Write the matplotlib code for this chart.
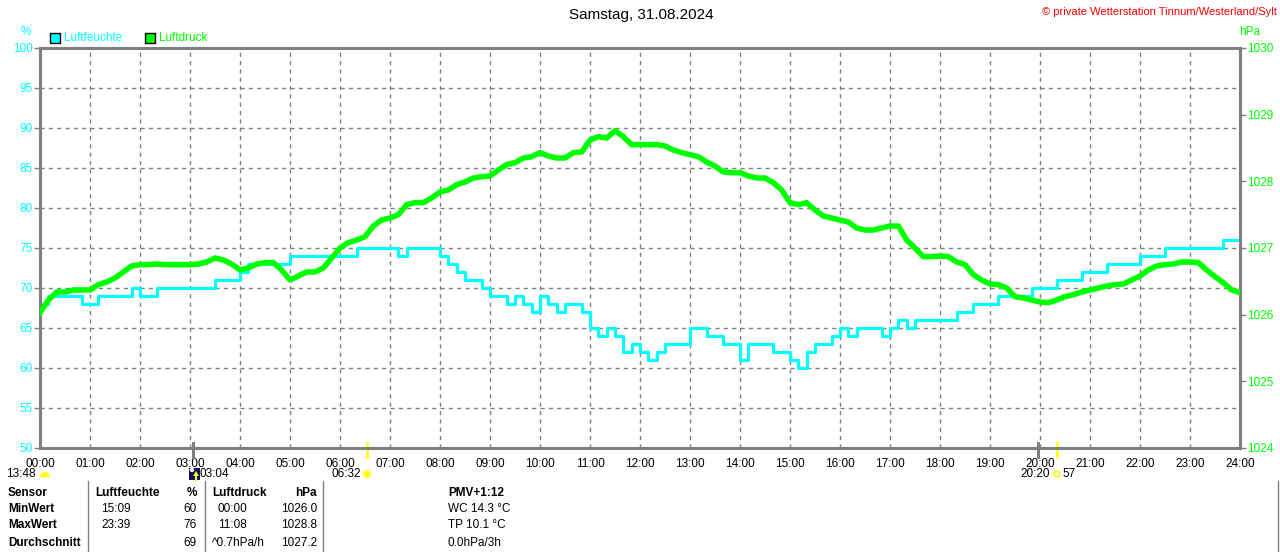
import numpy as np
import matplotlib
matplotlib.use("Agg")
import matplotlib.pyplot as plt
from matplotlib.patches import Rectangle, Circle, Wedge, Polygon
from matplotlib.lines import Line2D
from matplotlib.transforms import Affine2D

plt.rcParams['font.family'] = ['Liberation Sans', 'DejaVu Sans']

# ---------------- data ----------------
title = "Samstag, 31.08.2024"
copyright_text = "© private Wetterstation Tinnum/Westerland/Sylt"
hour_labels = ["%02d:00" % h for h in range(25)]
hum_ticks = [50, 55, 60, 65, 70, 75, 80, 85, 90, 95, 100]
pres_ticks = [1024, 1025, 1026, 1027, 1028, 1029, 1030]
sample_minutes = 10

# Luftfeuchte (%) every 10 minutes from 00:00 to 24:00
humidity = [68, 69, 69, 69, 69, 68, 68, 69, 69, 69, 69, 70, 69, 69,
            70, 70, 70, 70, 70, 70, 70, 71, 71, 71, 72, 73, 73, 73, 73, 73,
            74, 74, 74, 74, 74, 74, 74, 74, 75, 75, 75, 75, 75, 74, 75, 75, 75, 75,
            74, 73, 72, 71, 71, 70, 69, 69, 68, 69, 68, 67, 69, 68, 67, 68, 68, 67,
            65, 64, 65, 64, 62, 63, 62, 61, 62, 63, 63, 63, 65, 65, 64, 64, 63, 63,
            61, 63, 63, 63, 62, 62, 61, 60, 62, 63, 63, 64, 65, 64, 65, 65, 65, 64, 65,
            66, 65, 66, 66, 66, 66, 66, 67, 67, 68, 68, 68, 69, 69, 69, 69,
            70, 70, 70, 71, 71, 71, 72, 72, 72, 73, 73, 73, 73, 74, 74, 74,
            75, 75, 75, 75, 75, 75, 75, 76, 76, 76]

# Luftdruck (hPa) every 10 minutes from 00:00 to 24:00
pressure = [1026.03, 1026.22, 1026.34, 1026.34, 1026.37, 1026.37,
            1026.37, 1026.45, 1026.49, 1026.55, 1026.64, 1026.73,
            1026.75, 1026.75, 1026.76, 1026.75, 1026.75, 1026.75,
            1026.75, 1026.76, 1026.79, 1026.85, 1026.82, 1026.76,
            1026.67, 1026.70, 1026.76, 1026.78, 1026.78, 1026.67,
            1026.52, 1026.58, 1026.64, 1026.64, 1026.70, 1026.85,
            1027.00, 1027.08, 1027.12, 1027.17, 1027.33, 1027.42,
            1027.45, 1027.50, 1027.65, 1027.68, 1027.68, 1027.75,
            1027.84, 1027.87, 1027.95, 1027.99, 1028.05, 1028.07,
            1028.08, 1028.17, 1028.25, 1028.28, 1028.35, 1028.37,
            1028.43, 1028.38, 1028.35, 1028.35, 1028.43, 1028.44,
            1028.62, 1028.67, 1028.65, 1028.76, 1028.67, 1028.55,
            1028.55, 1028.55, 1028.55, 1028.53, 1028.47, 1028.43,
            1028.40, 1028.37, 1028.29, 1028.23, 1028.14, 1028.13,
            1028.13, 1028.08, 1028.05, 1028.05, 1027.98, 1027.87,
            1027.68, 1027.65, 1027.68, 1027.57, 1027.48, 1027.45,
            1027.42, 1027.39, 1027.30, 1027.27, 1027.27, 1027.30,
            1027.33, 1027.33, 1027.12, 1027.00, 1026.87, 1026.87,
            1026.88, 1026.87, 1026.79, 1026.75, 1026.60, 1026.52,
            1026.46, 1026.45, 1026.40, 1026.27, 1026.25, 1026.22,
            1026.19, 1026.18, 1026.22, 1026.27, 1026.30, 1026.34,
            1026.37, 1026.40, 1026.43, 1026.45, 1026.46, 1026.52,
            1026.58, 1026.67, 1026.73, 1026.75, 1026.76, 1026.79,
            1026.79, 1026.78, 1026.67, 1026.57, 1026.48, 1026.37,
            1026.33]

# astronomical markers (hours)
moon_marks = [3 + 4/60, 19 + 57/60]
sun_marks = [6 + 32/60, 20 + 20/60]

# table
table_header = ["Sensor", "Luftfeuchte", "%", "Luftdruck", "hPa", "PMV+1:12"]
row_names = ["MinWert", "MaxWert", "Durchschnitt"]
hum_times = ["15:09", "23:39", ""]
hum_vals = ["60", "76", "69"]
pres_times = ["00:00", "11:08", "^0.7hPa/h"]
pres_vals = ["1026.0", "1028.8", "1027.2"]
extra = ["WC 14.3 °C", "TP 10.1 °C", "0.0hPa/3h"]

# ---------------- figure ----------------
W, H = 1280, 552
fig = plt.figure(figsize=(W/100, H/100), dpi=100)
fig.patch.set_facecolor('white')

# pixel transform, origin top-left
PX = Affine2D().scale(1/100, -1/100).translate(0, H/100) + fig.dpi_scale_trans

def fx(x):
    return x / W

def fy(y):
    return 1 - y / H

L, R, T, B = 40, 1240, 48, 448
ax = fig.add_axes([fx(L), fy(B), (R-L)/W, (B-T)/H])
ax2 = ax.twinx()

CYAN = '#00FFFF'
GREEN = '#00FF00'
GRAY = '#808080'
YELLOW = '#FFFF00'

t_h = np.arange(len(humidity)) * sample_minutes / 60
t_p = np.arange(len(pressure)) * sample_minutes / 60

ax.set_xlim(0, 24)
ax.set_ylim(50, 100)
ax2.set_ylim(1024, 1030)

# grid
for h in range(1, 24):
    ax.axvline(h, color=GRAY, lw=1, ls=(0, (3, 3)), zorder=1)
for v in hum_ticks[1:-1]:
    ax.axhline(v, color=GRAY, lw=1, ls=(0, (3, 3)), zorder=1)

ax.plot(t_h, humidity, color=CYAN, lw=2.3, drawstyle='steps-post', zorder=3,
        solid_capstyle='butt')
ax2.plot(t_p, pressure, color=GREEN, lw=4.0, zorder=4)
ax2.set_zorder(ax.get_zorder() + 1)
ax2.patch.set_visible(False)

for a in (ax, ax2):
    for s in a.spines.values():
        s.set_color(GRAY)
        s.set_linewidth(2.2)

ax.set_yticks(hum_ticks)
ax.set_yticklabels([str(v) for v in hum_ticks], color=CYAN, fontsize=8.5)
ax2.set_yticks(pres_ticks)
ax2.set_yticklabels([str(v) for v in pres_ticks], color=GREEN, fontsize=8.5)
ax.tick_params(axis='y', length=4, width=1, color=GRAY, pad=1)
ax2.tick_params(axis='y', length=4, width=1, color=GRAY, pad=1)
ax.set_xticks(range(25))
ax.set_xticklabels(hour_labels, fontsize=8.5, color='black')
ax.tick_params(axis='x', length=0, pad=7.5)

# markers at the bottom axis
for m in moon_marks:
    ax.add_line(Line2D([m, m], [-0.023, 0.013], transform=ax.get_xaxis_transform(),
                       color=GRAY, lw=2.2, clip_on=False, zorder=6))
for m in sun_marks:
    ax.add_line(Line2D([m, m], [-0.023, 0.013], transform=ax.get_xaxis_transform(),
                       color=YELLOW, lw=1.8, clip_on=False, zorder=6))

# ---------------- texts ----------------
fig.text(641, 15, title, ha='center', va='center', fontsize=11, color='#000000', transform=PX)
fig.text(1277, 12, copyright_text, ha='right', va='center', fontsize=8, color='#FF0000', transform=PX)
fig.text(26, 32, "%", ha='center', va='center', fontsize=8.5, color=CYAN, transform=PX)
fig.text(1250, 32, "hPa", ha='center', va='center', fontsize=8.5, color=GREEN, transform=PX)

# legend
fig.patches.append(Rectangle((50, 33), 10, 10, transform=PX,
                             facecolor=CYAN, edgecolor='black', lw=1))
fig.text(64, 38, "Luftfeuchte", ha='left', va='center', fontsize=8.5, color=CYAN, transform=PX)
fig.patches.append(Rectangle((145, 33), 10, 10, transform=PX,
                             facecolor=GREEN, edgecolor='black', lw=1))
fig.text(159, 38, "Luftdruck", ha='left', va='center', fontsize=8.5, color=GREEN, transform=PX)

# astro labels
fs = 8.5
ay = 474
fig.text(36, ay, "13:48", ha='right', va='center', fontsize=fs, transform=PX)
fig.patches.append(Wedge((45, 477), 5, 180, 360, transform=PX,
                         facecolor=YELLOW, edgecolor='none'))
fig.patches.append(Rectangle((189, 468), 11, 12, transform=PX,
                             facecolor='#101060', edgecolor='none'))
fig.patches.append(Circle((192, 470), 2.2, transform=PX,
                          facecolor='white', edgecolor='none'))
fig.patches.append(Polygon([[196, 471], [193, 476], [199, 476]],
                           closed=True, transform=PX, facecolor=YELLOW, edgecolor='none'))
fig.add_artist(Line2D([196, 196], [475, 480], transform=PX, color=YELLOW, lw=1.5))
fig.text(200, ay, "03:04", ha='left', va='center', fontsize=fs, transform=PX)
fig.text(361, ay, "06:32", ha='right', va='center', fontsize=fs, transform=PX)
fig.patches.append(Circle((367, 474), 4, transform=PX,
                          facecolor=YELLOW, edgecolor='#FFFFA0', lw=1.2))
fig.text(1050, ay, "20:20", ha='right', va='center', fontsize=fs, transform=PX)
fig.patches.append(Rectangle((1054, 471), 5, 5, transform=PX,
                             facecolor='white', edgecolor=YELLOW, lw=1))
fig.text(1062, ay, "57", ha='left', va='center', fontsize=fs, transform=PX)

# table separators
for xs in (88, 205, 323, 1278):
    fig.add_artist(Line2D([xs, xs], [481, 552], transform=PX, color=GRAY, lw=1))

row_y = [493, 509, 525, 543]
fig.text(8, row_y[0], table_header[0], ha='left', va='center', fontsize=fs, weight='bold', transform=PX)
fig.text(95, row_y[0], table_header[1], ha='left', va='center', fontsize=fs, weight='bold', transform=PX)
fig.text(197, row_y[0], table_header[2], ha='right', va='center', fontsize=fs, weight='bold', transform=PX)
fig.text(212, row_y[0], table_header[3], ha='left', va='center', fontsize=fs, weight='bold', transform=PX)
fig.text(317, row_y[0], table_header[4], ha='right', va='center', fontsize=fs, weight='bold', transform=PX)
fig.text(448, row_y[0], table_header[5], ha='left', va='center', fontsize=fs, weight='bold', transform=PX)
for i in range(3):
    y = row_y[i + 1]
    fig.text(8, y, row_names[i], ha='left', va='center', fontsize=fs, weight='bold', transform=PX)
    fig.text(101, y, hum_times[i], ha='left', va='center', fontsize=fs, transform=PX)
    fig.text(197, y, hum_vals[i], ha='right', va='center', fontsize=fs, transform=PX)
    fig.text(212 if i == 2 else 218, y, pres_times[i], ha='left', va='center', fontsize=fs, transform=PX)
    fig.text(317, y, pres_vals[i], ha='right', va='center', fontsize=fs, transform=PX)
    fig.text(448, y, extra[i], ha='left', va='center', fontsize=fs, transform=PX)

fig.savefig("out.png", dpi=100, facecolor='white')
